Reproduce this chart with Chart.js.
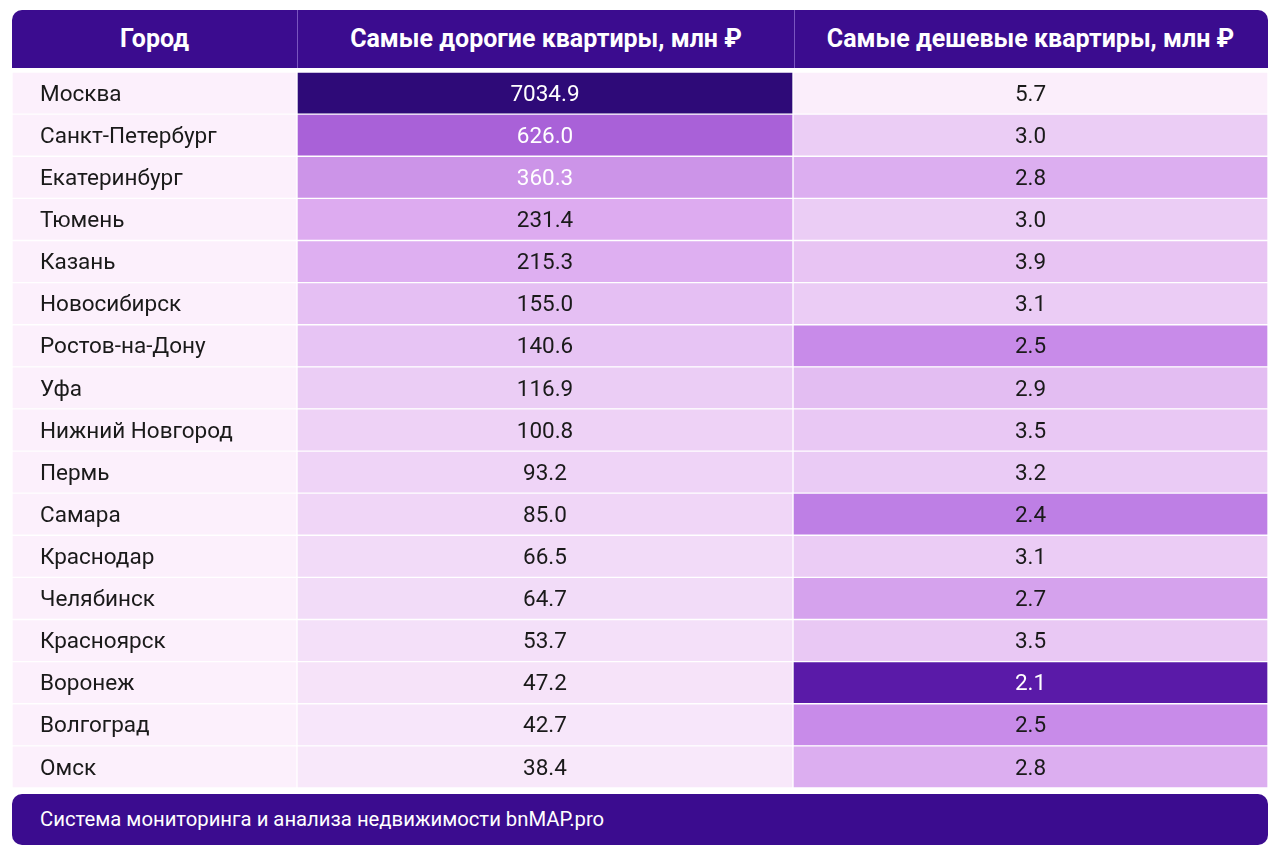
<!DOCTYPE html>
<html>
<head>
<meta charset="utf-8">
<script src="https://cdn.jsdelivr.net/npm/chart.js@4/dist/chart.umd.min.js"></script>
<style>
  body { margin: 0; background: #fff; font-family: Roboto, "Noto Sans", sans-serif; }
  .bar { position: absolute; left: 12px; width: 1256px; background: #3b0c8f; color: #fff; }
  #head { top: 10px; height: 58px; border-radius: 10px 10px 0 0; font-weight: bold; font-size: 25px; }
  #head div { position: absolute; top: 0; height: 58px; line-height: 58px; text-align: center; }
  #foot { top: 794px; height: 51px; line-height: 51px; border-radius: 10px; font-size: 20.3px; padding-left: 28px; box-sizing: border-box; }
  #wrap { position: absolute; left: 12px; top: 72px; width: 1256px; height: 716px; }
</style>
</head>
<body>
<div id="head" class="bar">
  <div style="left:0;width:285px">Город</div>
  <div style="left:285px;width:496px;border-left:1px solid #7a55c0;border-right:1px solid #7a55c0">Самые дорогие квартиры, млн ₽</div>
  <div style="left:781px;width:475px">Самые дешевые квартиры, млн ₽</div>
</div>
<div id="wrap"><canvas id="c"></canvas></div>
<div id="foot" class="bar">Система мониторинга и анализа недвижимости bnMAP.pro</div>
<script>
const cities = ['Москва','Санкт-Петербург','Екатеринбург','Тюмень','Казань','Новосибирск','Ростов-на-Дону','Уфа','Нижний Новгород','Пермь','Самара','Краснодар','Челябинск','Красноярск','Воронеж','Волгоград','Омск'];
const expensive = [7034.9,626.0,360.3,231.4,215.3,155.0,140.6,116.9,100.8,93.2,85.0,66.5,64.7,53.7,47.2,42.7,38.4];
const cheap = [5.7,3.0,2.8,3.0,3.9,3.1,2.5,2.9,3.5,3.2,2.4,3.1,2.7,3.5,2.1,2.5,2.8];

const COLS = [[0,285],[285,781],[781,1256]];

function hex(h){return [1,3,5].map(i=>parseInt(h.substr(i,2),16));}
function ramp(stops,t){
  t=Math.max(0,Math.min(1,t));
  for(let i=1;i<stops.length;i++){
    if(t<=stops[i][0]){
      const [t0,c0]=stops[i-1],[t1,c1]=stops[i];
      const f=(t-t0)/(t1-t0), a=hex(c0), b=hex(c1);
      return 'rgb('+a.map((v,k)=>Math.round(v+(b[k]-v)*f)).join(',')+')';
    }
  }
  return stops[stops.length-1][1];
}
const lo=Math.log(Math.min(...expensive)), hi=Math.log(Math.max(...expensive));
const tExp = v => (Math.log(v)-lo)/(hi-lo);
const expStops=[[0,'#f8e8fa'],[0.2,'#edd0f6'],[0.35,'#dcaaf0'],[0.45,'#c88ee6'],[0.55,'#a45ad6'],[1,'#2e0a78']];
const cMin=Math.min(...cheap), cMax=Math.max(...cheap);
const tCheap = v => (cMax-v)/(cMax-cMin);
const cheapStops=[[0,'#fbeefb'],[0.5,'#e8c4f3'],[0.75,'#ebcdf5'],[0.8,'#ddb0f0'],[0.9,'#c586e8'],[0.95,'#b070de'],[1,'#5a1aa8']];

const labelPlugin = {
  id:'cellText',
  afterDatasetsDraw(chart){
    const ctx=chart.ctx;
    ctx.save();
    ctx.font='22.5px Roboto, "Noto Sans", sans-serif';
    ctx.textBaseline='middle';
    chart.data.datasets.forEach((ds,di)=>{
      chart.getDatasetMeta(di).data.forEach((el,j)=>{
        if(di===0){
          ctx.textAlign='left'; ctx.fillStyle='#1a1a1a';
          ctx.fillText(cities[j], el.base+28, el.y+2);
        } else {
          const v = di===1?expensive[j]:cheap[j];
          const t = di===1?tExp(v):tCheap(v);
          ctx.textAlign='center';
          ctx.fillStyle = t>0.42 && (di===1 || t>0.97) ? '#ffffff' : '#1a1a1a';
          ctx.fillText(v.toFixed(1), (el.x+el.base)/2, el.y+2);
        }
      });
    });
    ctx.restore();
  }
};

new Chart(document.getElementById('c'), {
  type:'bar',
  data:{
    labels:cities,
    datasets:[
      {data:cities.map(()=>COLS[0]), backgroundColor:'#fcf0fc'},
      {data:expensive.map(()=>COLS[1]), backgroundColor:expensive.map(v=>ramp(expStops,tExp(v)))},
      {data:cheap.map(()=>COLS[2]), backgroundColor:cheap.map(v=>ramp(cheapStops,tCheap(v)))}
    ].map(d=>Object.assign(d,{borderColor:'#ffffff',borderWidth:1,borderSkipped:false,categoryPercentage:1,barPercentage:1,grouped:false}))
  },
  options:{
    indexAxis:'y', responsive:true, maintainAspectRatio:false, animation:false,
    layout:{padding:0},
    scales:{
      x:{display:false,min:0,max:1256},
      y:{display:false}
    },
    plugins:{legend:{display:false},tooltip:{enabled:false}}
  },
  plugins:[labelPlugin]
});
</script>
</body>
</html>
